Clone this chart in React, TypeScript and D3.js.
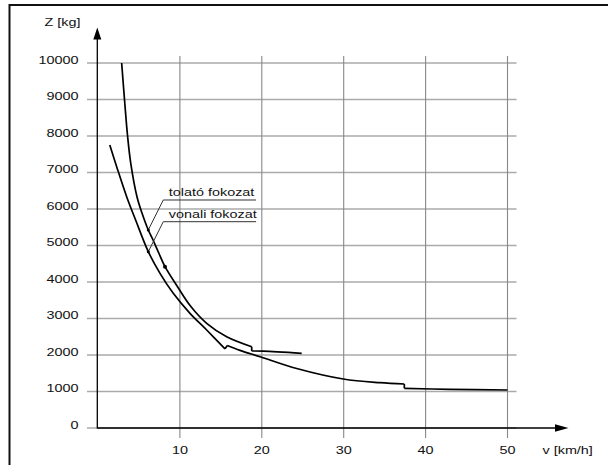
import React from 'react';
import * as d3 from 'd3';

// ---- data ----
const xTicks = [10, 20, 30, 40, 50];
const yTicks = [0, 1000, 2000, 3000, 4000, 5000, 6000, 7000, 8000, 9000, 10000];
const xTitle = 'v [km/h]';
const yTitle = 'Z [kg]';

// tolató fokozat (upper curve), segments [v, Z]
const tolatoSeg1: [number, number][] = [
  [2.89, 10000], [3.24, 8986], [3.61, 8000], [4.0, 7252], [4.76, 6337],
  [5.37, 5890], [6.14, 5425], [6.72, 5151], [7.45, 4781], [8.18, 4419],
  [9.71, 3871], [11.29, 3342], [13.27, 2868], [15.71, 2501], [18.77, 2227],
];
const tolatoSeg2: [number, number][] = [[18.77, 2227], [18.77, 2110]];
const tolatoSeg3: [number, number][] = [[18.77, 2110], [20.18, 2106], [24.87, 2046]];

// vonali fokozat (lower curve)
const vonaliSeg1: [number, number][] = [
  [1.44, 7753], [2.28, 7159], [3.5, 6337], [4.64, 5671], [6.14, 4830],
  [7.57, 4238], [9.19, 3690], [11.23, 3142], [13.27, 2685], [15.51, 2170],
];
const vonaliSeg2: [number, number][] = [[15.51, 2170], [15.79, 2260]];
const vonaliSeg3: [number, number][] = [
  [15.79, 2260], [17.34, 2126], [19.9, 1945], [24.26, 1630], [29.95, 1342],
  [34.4, 1241], [37.4, 1205],
];
const vonaliSeg4: [number, number][] = [[37.4, 1205], [37.4, 1088]];
const vonaliSeg5: [number, number][] = [[37.4, 1088], [43, 1058], [50, 1041]];

const labelTexts = ['tolató fokozat', 'vonali fokozat'];
const labelStart: [number, number][] = [[7.97, 6247], [7.97, 5652]];
const labelEndV = [19.3, 19.3];
const labelAnchor: [number, number][] = [[6.14, 5425], [6.14, 4830]];
const notchPoints: [number, number][] = [[8.18, 4419]];

const W = 608;
const H = 465;
const FONT = '"Liberation Sans", Arial, sans-serif';
const SX = 1.31;

export default function App() {
  const x = d3.scaleLinear().domain([0, 50]).range([98, 507.5]);
  const y = d3.scaleLinear().domain([0, 10000]).range([428, 63]);

  const smooth = d3.line<[number, number]>()
    .x(d => x(d[0])).y(d => y(d[1])).curve(d3.curveCatmullRom.alpha(0.5));
  const straight = d3.line<[number, number]>()
    .x(d => x(d[0])).y(d => y(d[1]));

  const curveStyle = { fill: 'none', stroke: '#000', strokeWidth: 1.7, strokeLinejoin: 'round' as const };

  const axX = x(0) - 0.7;
  const axY = y(0);

  return (
    <svg width={W} height={H} style={{ position: 'absolute', left: 0, top: 0, background: '#fff' }}>
      <rect x={0} y={0} width={W} height={H} fill="#fff" />
      {/* frame */}
      <path d={`M9.5,${H + 2} V5 H${W + 2}`} fill="none" stroke="#111" strokeWidth={2} />

      {/* grid */}
      {yTicks.map(t => (
        <line key={'h' + t} x1={x(0) - 11} x2={x(50) + 9} y1={y(t)} y2={y(t)} stroke="#aaa" strokeWidth={1.3} />
      ))}
      {xTicks.map(t => (
        <line key={'v' + t} x1={x(t)} x2={x(t)} y1={y(10000) - 7} y2={y(0) + 10} stroke="#888" strokeWidth={1.1} />
      ))}

      {/* axes */}
      <line x1={axX} x2={axX} y1={axY + 0.5} y2={37} stroke="#000" strokeWidth={1.3} />
      <path d={`M${axX},27.5 L${axX - 4},39.5 L${axX + 4},39.5 Z`} fill="#000" />
      <line x1={axX} x2={556} y1={axY} y2={axY} stroke="#000" strokeWidth={1.3} />
      <path d={`M568.5,${axY} L555,${axY - 3.8} L555,${axY + 3.8} Z`} fill="#000" />

      {/* y tick labels */}
      {yTicks.map(t => (
        <text key={'yl' + t} transform={`translate(78.5,${y(t) + 0.5}) scale(${SX},1)`} textAnchor="end"
          fontFamily={FONT} fontSize={11} fill="#111">{t}</text>
      ))}
      {/* x tick labels */}
      {xTicks.map(t => (
        <text key={'xl' + t} transform={`translate(${x(t)},454) scale(${SX},1)`} textAnchor="middle"
          fontFamily={FONT} fontSize={11} fill="#111">{t}</text>
      ))}
      <text transform={`translate(44.5,26) scale(${SX},1)`} fontFamily={FONT} fontSize={11} fill="#111">{yTitle}</text>
      <text transform={`translate(542.5,454) scale(${SX},1)`} fontFamily={FONT} fontSize={11} fill="#111">{xTitle}</text>

      {/* curves */}
      <path d={smooth(tolatoSeg1) || ''} {...curveStyle} />
      <path d={straight(tolatoSeg2) || ''} {...curveStyle} />
      <path d={smooth(tolatoSeg3) || ''} {...curveStyle} />
      <path d={smooth(vonaliSeg1) || ''} {...curveStyle} />
      <path d={straight(vonaliSeg2) || ''} {...curveStyle} />
      <path d={smooth(vonaliSeg3) || ''} {...curveStyle} />
      <path d={straight(vonaliSeg4) || ''} {...curveStyle} />
      <path d={smooth(vonaliSeg5) || ''} {...curveStyle} />

      {notchPoints.map((p, i) => (
        <circle key={'n' + i} cx={x(p[0])} cy={y(p[1])} r={2} fill="#000" />
      ))}

      {/* labels with leaders */}
      {labelTexts.map((txt, i) => (
        <g key={'lab' + i}>
          <line x1={x(labelStart[i][0])} y1={y(labelStart[i][1])} x2={x(labelEndV[i])} y2={y(labelStart[i][1])}
            stroke="#333" strokeWidth={1} />
          <line x1={x(labelStart[i][0])} y1={y(labelStart[i][1])} x2={x(labelAnchor[i][0])} y2={y(labelAnchor[i][1])}
            stroke="#333" strokeWidth={1} />
          <circle cx={x(labelAnchor[i][0])} cy={y(labelAnchor[i][1])} r={1.5} fill="#000" />
          <text transform={`translate(${x(labelStart[i][0]) + 5.5},${y(labelStart[i][1]) - 3.5}) scale(${SX},1)`}
            fontFamily={FONT} fontSize={11} fill="#111">{txt}</text>
        </g>
      ))}
    </svg>
  );
}
